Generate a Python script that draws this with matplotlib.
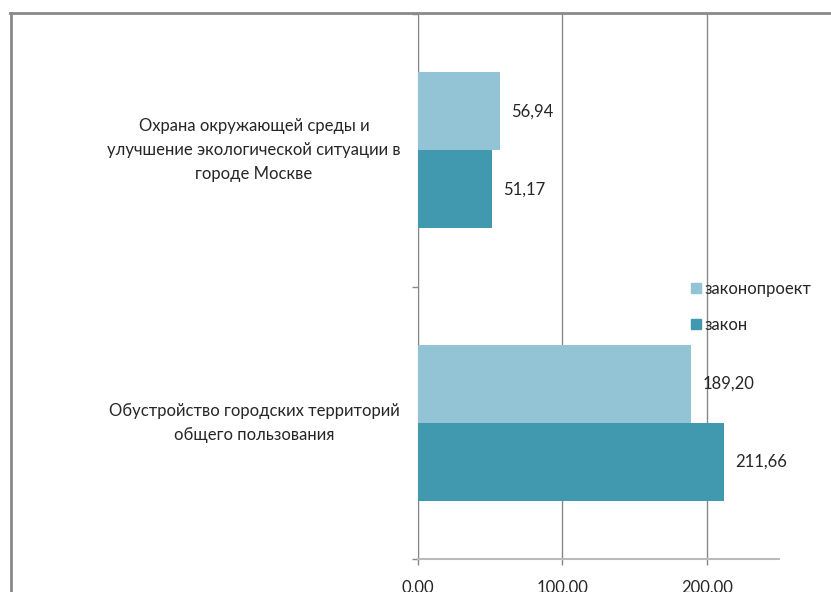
import matplotlib
matplotlib.use("Agg")
import matplotlib.pyplot as plt
from matplotlib.lines import Line2D
import matplotlib.transforms as mtransforms

plt.rcParams['font.family'] = ['Lato', 'DejaVu Sans']

categories = ["Обустройство городских территорий\nобщего пользования",
              "Охрана окружающей среды и\nулучшение экологической ситуации в\nгороде Москве"]
series_names = ["законопроект", "закон"]
zakonoproekt = [189.20, 56.94]
zakon = [211.66, 51.17]
xticks = [0, 100, 200]
xticklabels = ["0,00", "100,00", "200,00"]

c_light = "#93C4D5"
c_dark = "#4199B0"
W, H = 831, 592
fig = plt.figure(figsize=(W/100, H/100), dpi=100)
L, R, T, B = 418, 779, 14, 559
ax = fig.add_axes([L/W, 1-B/H, (R-L)/W, (B-T)/H])

h = 0.286
ys = [0, 1]
fs = 12.0
for i, y in enumerate(ys):
    ax.barh(y + h/2, zakonoproekt[i], height=h, color=c_light, zorder=3)
    ax.barh(y - h/2, zakon[i], height=h, color=c_dark, zorder=3)
    ax.annotate(f"{zakonoproekt[i]:.2f}".replace('.', ','), (zakonoproekt[i], y + h/2),
                xytext=(8, 0), textcoords='offset points', va='center', ha='left',
                fontsize=fs, color='#262626', zorder=4)
    ax.annotate(f"{zakon[i]:.2f}".replace('.', ','), (zakon[i], y - h/2),
                xytext=(8, 0), textcoords='offset points', va='center', ha='left',
                fontsize=fs, color='#262626', zorder=4)

ax.set_xlim(0, 250)
ax.set_ylim(-0.5, 1.5)
ax.set_xticks(xticks)
ax.set_xticklabels(xticklabels, fontsize=fs, color='#262626')
ax.tick_params(axis='x', length=4.5, width=1, color='#888888', pad=10)
ax.set_yticks([-0.5, 0.5, 1.5])
ax.set_yticklabels([])
ax.tick_params(axis='y', length=4.5, width=1, color='#888888')
ax.grid(axis='x', color='#888888', linewidth=1, zorder=0)
for s in ['top', 'right']:
    ax.spines[s].set_visible(False)
ax.spines['left'].set_color('#888888')
ax.spines['bottom'].set_color('#BBBBBB')
ax.spines['bottom'].set_linewidth(1.5)

trans = mtransforms.blended_transform_factory(ax.transAxes, ax.transData)
for y, lab in zip(ys, categories):
    ax.text((254-L)/(R-L), y, lab, transform=trans, ha='center', va='center',
            multialignment='center', fontsize=fs, color='#262626', linespacing=1.62)

# legend
handles = [plt.Rectangle((0, 0), 1, 1, color=c_light), plt.Rectangle((0, 0), 1, 1, color=c_dark)]
leg = fig.legend(handles, series_names, loc='center left', bbox_to_anchor=(691/W, 1-307/H),
                 frameon=False, fontsize=fs, handlelength=0.6, handleheight=0.6,
                 handletextpad=0.2, labelspacing=1.2, borderaxespad=0, borderpad=0)
for t in leg.get_texts():
    t.set_color('#262626')

# outer frame (partial chart border)
fig.add_artist(Line2D([11/W, 11/W], [0, 1-13/H], transform=fig.transFigure, color='#8a8a8a', linewidth=2))
fig.add_artist(Line2D([10/W, 1], [1-13/H, 1-13/H], transform=fig.transFigure, color='#8a8a8a', linewidth=2))

fig.savefig("out.png", dpi=100)
